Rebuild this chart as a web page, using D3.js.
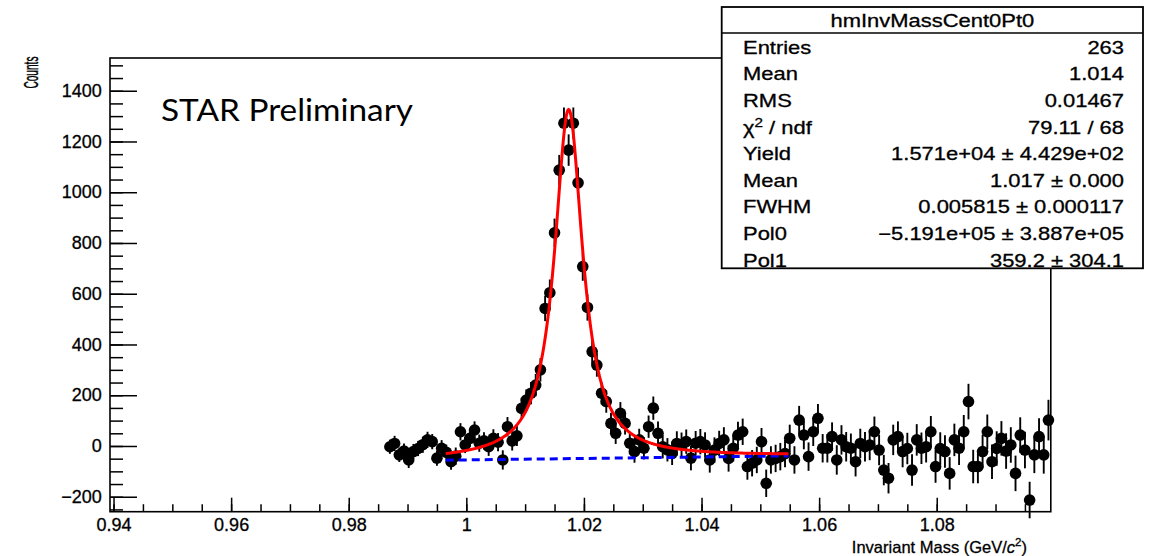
<!DOCTYPE html>
<html>
<head>
<meta charset="utf-8">
<script src="https://cdn.jsdelivr.net/npm/d3@7"></script>
<style>
  html, body { margin: 0; padding: 0; background: #fff; }
  svg { display: block; }
</style>
</head>
<body>
<svg id="chart" width="1150" height="556"></svg>
<script>
// ---- histogram: 200 bins of 0.8 MeV, only filled bins are listed ----
const binLow = 0.9394;
const binWidth = 0.0008;
const firstFilledBin = 59;
const counts = [
  -3, 10, -35, -20, -55, -22, -10, 5, 24, 17,
  -48, -9, -25, -62, -40, 56, 4, 30, 63, 11,
  20, -3, 30, 15, -55, 76, 20, 40, 148, 181,
  208, 240, 300, 542, 604, 840, 1087, 1272, 1166, 1272,
  1037, 707, 546, 372, 319, 208, 175, 89, 50, 129,
  89, 11, -22, 24, -9, 76, 149, 50, -3, -15,
  -29, 10, 5, 17, -48, 11, 17, 4, -55, -16,
  10, 24, -49, -9, 43, 56, -81, -68, -55, 17,
  -147, -55, -49, -42, -30, 30, -55, 102, 43, -42,
  56, 109, -9, -9, 37, -55, 24, -3, -9, -62,
  10, -3, 4, 56, -16, -95, -127, 24, 37, -22,
  -10, -95, 24, -9, -3, 56, -81, -10, -22, -108,
  24, -9, 56, 175, -81, -81, -22, 56, -62, -10,
  30, -20, 4, -108, 43, -16, -213, -35, 37, -35,
  102
];
const errors = [
  28, 30, 28, 30, 32, 30, 30, 32, 32, 30,
  30, 32, 30, 32, 34, 34, 32, 34, 34, 34,
  34, 36, 36, 36, 38, 38, 38, 40, 42, 42,
  44, 44, 46, 50, 52, 56, 60, 62, 62, 62,
  60, 56, 52, 48, 46, 44, 44, 42, 42, 44,
  44, 44, 44, 44, 44, 44, 46, 46, 46, 46,
  46, 48, 48, 48, 48, 48, 50, 50, 50, 50,
  50, 50, 52, 52, 52, 52, 52, 52, 52, 54,
  54, 54, 54, 54, 54, 54, 54, 56, 56, 56,
  56, 56, 56, 56, 56, 58, 58, 58, 58, 58,
  58, 58, 60, 60, 60, 60, 60, 60, 60, 62,
  62, 62, 62, 62, 62, 62, 64, 64, 64, 64,
  64, 66, 66, 70, 66, 66, 66, 68, 68, 68,
  68, 70, 70, 70, 70, 72, 72, 72, 72, 74,
  80
];

// ---- axes ----
const xMajorTicks = [0.94, 0.96, 0.98, 1.00, 1.02, 1.04, 1.06, 1.08];
const xTickLabels = ["0.94", "0.96", "0.98", "1", "1.02", "1.04", "1.06", "1.08"];
const yMajorTicks = [-200, 0, 200, 400, 600, 800, 1000, 1200, 1400];
const yTickLabels = ["\u2212200", "0", "200", "400", "600", "800", "1000", "1200", "1400"];
const xDomain = [0.9394, 1.0994];
const yDomain = [-259, 1529];

// ---- Breit-Wigner + pol1 fit ----
const fitRange = [0.9965, 1.0548];
const fitYield = 1.571e4;
const fitMean = 1.0174;
const fitFWHM = 0.005815;
const bgAtFitEnds = [-56, -39];

// ---- statistics box ----
const statsTitle = "hmInvMassCent0Pt0";
const statNames = ["Entries", "Mean", "RMS", "CHI2", "Yield", "Mean", "FWHM", "Pol0", "Pol1"];
const statValues = ["263", "1.014", "0.01467", "79.11 / 68",
  "1.571e+04 \u00b1 4.429e+02", "1.017 \u00b1 0.000", "0.005815 \u00b1 0.000117",
  "\u22125.191e+05 \u00b1 3.887e+05", "359.2 \u00b1 304.1"];

const svg = d3.select("#chart");
const font = "'Liberation Sans', Arial, Helvetica, sans-serif";
const textHalo = 0.3;   // slight stroke so the small text keeps its weight

const frame = { left: 110, right: 1050.8, top: 58, bottom: 511.7 };
const x = d3.scaleLinear().domain(xDomain).range([frame.left, frame.right]);
const y = d3.scaleLinear().domain(yDomain).range([frame.bottom, frame.top]);

// minor tick values
const xMinor = d3.range(0, 32).map(i => +(0.94 + i * 0.005).toFixed(4)).filter(v => v < xDomain[1]);
const yMinor = d3.range(-250, 1529, 50);

// frame
svg.append("rect")
  .attr("x", frame.left).attr("y", frame.top)
  .attr("width", frame.right - frame.left).attr("height", frame.bottom - frame.top)
  .attr("fill", "none").attr("stroke", "#000").attr("stroke-width", 1.6);

// x axis
const gxMinor = svg.append("g").attr("transform", `translate(0,${frame.bottom})`)
  .call(d3.axisBottom(x).tickValues(xMinor).tickSize(-7.5).tickFormat(""));
const gx = svg.append("g").attr("transform", `translate(0,${frame.bottom})`)
  .call(d3.axisBottom(x).tickValues(xMajorTicks).tickSize(-14).tickPadding(6.5)
    .tickFormat((d, i) => xTickLabels[i]));

// y axis
const gyMinor = svg.append("g").attr("transform", `translate(${frame.left},0)`)
  .call(d3.axisLeft(y).tickValues(yMinor).tickSize(-13).tickFormat(""));
const gy = svg.append("g").attr("transform", `translate(${frame.left},0)`)
  .call(d3.axisLeft(y).tickValues(yMajorTicks).tickSize(-27).tickPadding(8.3)
    .tickFormat((d, i) => yTickLabels[i]));

[gxMinor, gx, gyMinor, gy].forEach(g => {
  g.select(".domain").remove();
  g.selectAll(".tick line").attr("stroke", "#000").attr("stroke-width", 1.5);
  g.selectAll("text").attr("fill", "#000")
    .attr("stroke", "#000").attr("stroke-width", textHalo)
    .style("font-family", font).style("font-size", "18px");
});

// axis titles
svg.append("text")
  .attr("x", 1027).attr("y", 553)
  .attr("text-anchor", "end")
  .attr("stroke", "#000").attr("stroke-width", textHalo)
  .style("font-family", font).style("font-size", "16.5px")
  .html('Invariant Mass (GeV/<tspan font-style="italic">c</tspan><tspan dy="-7" font-size="11.5px">2</tspan><tspan dy="7">)</tspan>');

svg.append("text")
  .attr("transform", "translate(37.5,56.5) rotate(-90) scale(0.52,1)")
  .attr("text-anchor", "end")
  .attr("stroke", "#000").attr("stroke-width", 0.45)
  .style("font-family", font).style("font-size", "19.5px")
  .text("Counts");

// data points with error bars
const points = counts.map((c, i) => ({
  m: binLow + (firstFilledBin + i + 0.5) * binWidth,
  c: c,
  e: errors[i]
}));

const gData = svg.append("g");
gData.selectAll("line.err").data(points).join("line")
  .attr("class", "err")
  .attr("x1", d => x(d.m)).attr("x2", d => x(d.m))
  .attr("y1", d => y(d.c - d.e)).attr("y2", d => y(d.c + d.e))
  .attr("stroke", "#000").attr("stroke-width", 1.9);
gData.selectAll("circle").data(points).join("circle")
  .attr("cx", d => x(d.m)).attr("cy", d => y(d.c))
  .attr("r", 5.8).attr("fill", "#000");

// fit components
const bgSlope = (bgAtFitEnds[1] - bgAtFitEnds[0]) / (fitRange[1] - fitRange[0]);
const background = m => bgAtFitEnds[0] + bgSlope * (m - fitRange[0]);
const breitWigner = m => fitYield * binWidth * (fitFWHM / (2 * Math.PI)) /
  ((m - fitMean) ** 2 + (fitFWHM / 2) ** 2);
const fitSamples = d3.range(0, 601).map(i => fitRange[0] + (fitRange[1] - fitRange[0]) * i / 600);

svg.append("path")
  .datum(fitRange)
  .attr("d", d3.line().x(d => x(d)).y(d => y(background(d))))
  .attr("fill", "none").attr("stroke", "#0000ff").attr("stroke-width", 3)
  .attr("stroke-dasharray", "8,5");

svg.append("path")
  .datum(fitSamples)
  .attr("d", d3.line().x(d => x(d)).y(d => y(breitWigner(d) + background(d))))
  .attr("fill", "none").attr("stroke", "#ff0000").attr("stroke-width", 3);

// preliminary label
svg.append("text")
  .attr("x", 161).attr("y", 121)
  .attr("textLength", 252).attr("lengthAdjust", "spacingAndGlyphs")
  .style("font-family", "Lato, 'Open Sans', sans-serif").style("font-size", "30px")
  .attr("fill", "#000")
  .text("STAR Preliminary");

// statistics box
const box = { left: 721.7, right: 1143, top: 7, bottom: 268.3, titleLine: 33 };
const gStats = svg.append("g");
gStats.append("rect")
  .attr("x", box.left).attr("y", box.top)
  .attr("width", box.right - box.left).attr("height", box.bottom - box.top)
  .attr("fill", "#fff").attr("stroke", "#000").attr("stroke-width", 1.8);
gStats.append("line")
  .attr("x1", box.left).attr("x2", box.right)
  .attr("y1", box.titleLine).attr("y2", box.titleLine)
  .attr("stroke", "#000").attr("stroke-width", 1.5);

const sx = 1.22;
function statText(str, px, py, anchor) {
  return gStats.append("text")
    .attr("transform", `translate(${px},${py}) scale(${sx},1)`)
    .attr("text-anchor", anchor)
    .attr("stroke", "#000").attr("stroke-width", textHalo)
    .style("font-family", font).style("font-size", "18px")
    .attr("fill", "#000")
    .text(str);
}
statText(statsTitle, (box.left + box.right) / 2, 26.5, "middle");
const rowStep = 26.6, firstRow = 53.8;
statNames.forEach((name, i) => {
  const py = firstRow + i * rowStep;
  if (name === "CHI2") {
    const t = statText("", 743, py, "start");
    t.append("tspan").text("\u03c7");
    t.append("tspan").attr("dy", -7).style("font-size", "12.5px").text("2");
    t.append("tspan").attr("dy", 7).text(" / ndf");
  } else {
    statText(name, 743, py, "start");
  }
  statText(statValues[i], 1124, py, "end");
});
</script>
</body>
</html>
